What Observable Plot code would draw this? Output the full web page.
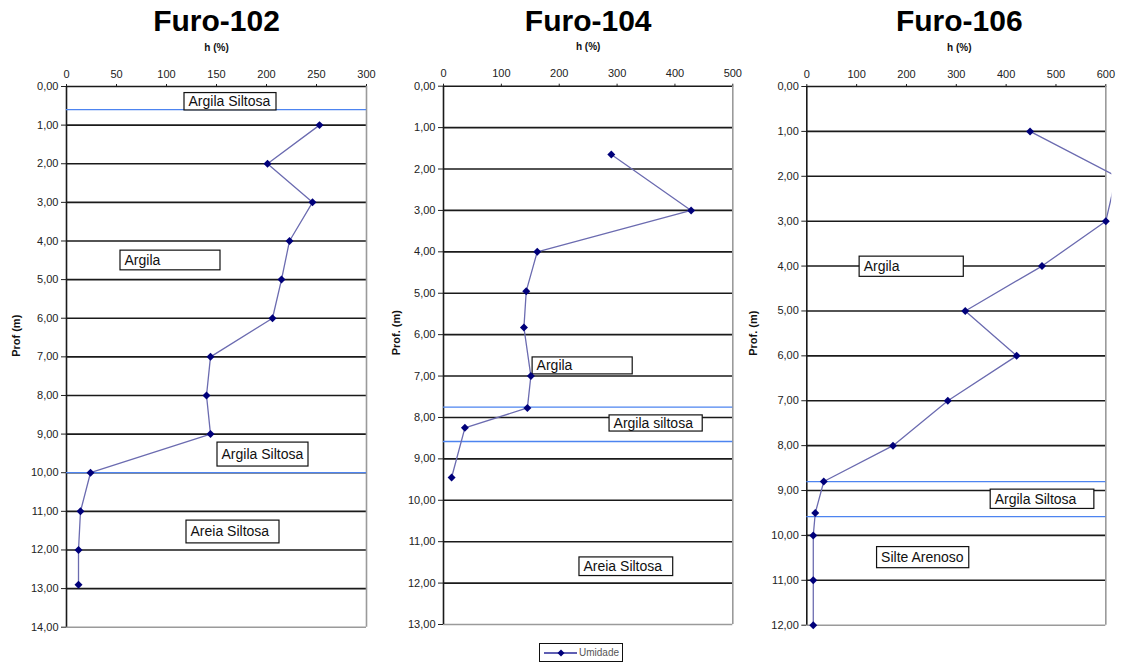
<!DOCTYPE html>
<html>
<head>
<meta charset="utf-8">
<script src="https://cdn.jsdelivr.net/npm/d3@7"></script>
<script src="https://cdn.jsdelivr.net/npm/@observablehq/plot@0.6"></script>
<style>
  html, body { margin: 0; padding: 0; background: #fff; }
  #page { position: relative; width: 1122px; height: 664px; overflow: hidden; font-family: "Liberation Sans", Arial, sans-serif; }
  .panel { position: absolute; top: 0; }
  #legend { position: absolute; left: 539px; top: 643px; width: 84px; height: 19px; border: 1.3px solid #111; box-sizing: border-box; display: flex; align-items: center; font-size: 10px; color: #555; }
</style>
</head>
<body>
<div id="page">
  <div id="p1" class="panel" style="left:0px"></div>
  <div id="p2" class="panel" style="left:375px"></div>
  <div id="p3" class="panel" style="left:745px"></div>
  <div id="legend">
    <svg width="36" height="12" style="margin-left:3px"><line x1="1" y1="6" x2="34" y2="6" stroke="#2a2a9a" stroke-width="1.3"/><path d="M18,2.5 L21.5,6 L18,9.5 L14.5,6 Z" fill="#00007a"/></svg>
    <span>Umidade</span>
  </div>
</div>
<script>
// ---- Furo-102 ----
const furo102Depth = [1, 2, 3, 4, 5, 6, 7, 8, 9, 10, 11, 12, 12.9];
const furo102Umidade = [253, 201, 246, 223, 215, 206, 144, 140, 144, 24, 14, 12, 12];
const furo102Contacts = [0.6, 10.0];
const furo102Notes = [
  {label: "Argila Siltosa", h1: 118, h2: 210, d1: 0.17, d2: 0.62},
  {label: "Argila", h1: 54, h2: 154, d1: 4.25, d2: 4.76},
  {label: "Argila Siltosa", h1: 151, h2: 242, d1: 9.22, d2: 9.84},
  {label: "Areia Siltosa", h1: 120, h2: 213, d1: 11.24, d2: 11.83}
];
const furo102XTicks = [0, 50, 100, 150, 200, 250, 300];

// ---- Furo-104 ----
const furo104Depth = [1.65, 3.0, 4.0, 4.95, 5.83, 7.0, 7.77, 8.25, 9.45];
const furo104Umidade = [290, 428, 162, 143, 139, 151, 145, 37, 14];
const furo104Contacts = [7.75, 8.58];
const furo104Notes = [
  {label: "Argila", h1: 154, h2: 327, d1: 6.55, d2: 6.96},
  {label: "Argila siltosa", h1: 287, h2: 448, d1: 7.95, d2: 8.34},
  {label: "Areia Siltosa", h1: 235, h2: 397, d1: 11.38, d2: 11.83}
];
const furo104XTicks = [0, 100, 200, 300, 400, 500];

// ---- Furo-106 ----
const furo106Depth = [1, 2, 3, 4, 5, 6, 7, 8, 8.8, 9.5, 10, 11, 12];
const furo106Umidade = [448, 621, 600, 472, 318, 421, 283, 173, 34, 17, 13, 13, 13];
const furo106Contacts = [8.8, 9.58];
const furo106Notes = [
  {label: "Argila", h1: 106, h2: 315, d1: 3.79, d2: 4.24},
  {label: "Argila Siltosa", h1: 369, h2: 577, d1: 8.98, d2: 9.41},
  {label: "Silte Arenoso", h1: 141, h2: 326, d1: 10.26, d2: 10.73}
];
const furo106XTicks = [0, 100, 200, 300, 400, 500, 600];

const FONT = "Liberation Sans, Arial, Helvetica, sans-serif";
const comma = d => d.toFixed(2).replace(".", ",");

function panel(o) {
  const data = o.depth.map((d, i) => ({d, h: o.h[i]}));
  // markers beyond the chart's value range are hidden, as in the source chart
  const visible = data.filter(p => p.h <= o.xDomainMax);
  const grid = d3.range(1, o.ymax);
  const noteMid = n => (n.d1 + n.d2) / 2;
  return Plot.plot({
    width: o.width, height: 664,
    marginLeft: o.ml, marginRight: o.mr, marginTop: o.mt, marginBottom: o.mb,
    style: {fontFamily: FONT, fontSize: "11px", color: "#222", background: "transparent", overflow: "visible"},
    x: {domain: [0, o.xDomainMax], axis: "top", ticks: o.xticks, tickSize: 3, tickPadding: 6, label: null},
    y: {domain: [0, o.ymax], reverse: true, ticks: d3.range(0, o.ymax + 1), tickFormat: comma, tickSize: 5, tickPadding: 3, label: null},
    marks: [
      Plot.ruleY(grid, {x1: 0, x2: o.xmax, stroke: "#1a1a1a", strokeWidth: 1.6}),
      Plot.ruleY([0], {x1: 0, x2: o.xmax, stroke: "#1a1a1a", strokeWidth: 1.6}),
      Plot.ruleY([o.ymax], {x1: 0, x2: o.xmax, stroke: "#9a9a9a", strokeWidth: 1.6}),
      Plot.ruleX([o.xmax], {y1: 0, y2: o.ymax, stroke: "#9a9a9a", strokeWidth: 1.6}),
      Plot.ruleX([0], {y1: 0, y2: o.ymax, stroke: "#1a1a1a", strokeWidth: 1.6}),
      Plot.ruleY(o.contacts, {x1: 0, x2: o.xmax, stroke: "#4d84f0", strokeWidth: 1.3}),
      Plot.rect(o.notes, {x1: "h1", x2: "h2", y1: "d1", y2: "d2", fill: "#fff", stroke: "#111", strokeWidth: 1.2}),
      Plot.text(o.notes, {x: "h1", y: noteMid, text: "label", textAnchor: "start", dx: 4, fontSize: 14, fill: "#111"}),
      Plot.line(data, {x: "h", y: "d", stroke: "#6b6bb0", strokeWidth: 1.3, clip: true}),
      Plot.dot(visible, {x: "h", y: "d", symbol: "diamond2", r: 3.6, fill: "#00007a", stroke: "none"}),
      Plot.text([o.title], {frameAnchor: "top", dy: -65, fontSize: 30, fontWeight: "bold", fill: "#000", lineAnchor: "middle", text: d => d}),
      Plot.text(["h (%)"], {frameAnchor: "top", dy: -39, fontSize: 10, fontWeight: "bold", fill: "#111", lineAnchor: "middle", text: d => d}),
      Plot.text([o.yLabel], {frameAnchor: "left", dx: o.ylabDx, rotate: -90, fontSize: 11, fontWeight: "bold", fill: "#111", text: d => d})
    ]
  });
}

document.getElementById("p1").appendChild(panel({
  title: "Furo-102", yLabel: "Prof (m)", depth: furo102Depth, h: furo102Umidade,
  contacts: furo102Contacts, notes: furo102Notes, xticks: furo102XTicks,
  xmax: 300, xDomainMax: 300, ymax: 14,
  width: 375, ml: 66, mr: 9, mt: 86, mb: 37.3, ylabDx: -50
}));
document.getElementById("p2").appendChild(panel({
  title: "Furo-104", yLabel: "Prof. (m)", depth: furo104Depth, h: furo104Umidade,
  contacts: furo104Contacts, notes: furo104Notes, xticks: furo104XTicks,
  xmax: 500, xDomainMax: 500, ymax: 13,
  width: 370, ml: 68, mr: 12.7, mt: 85.7, mb: 40, ylabDx: -47
}));
document.getElementById("p3").appendChild(panel({
  title: "Furo-106", yLabel: "Prof. (m)", depth: furo106Depth, h: furo106Umidade,
  contacts: furo106Contacts, notes: furo106Notes, xticks: furo106XTicks,
  xmax: 600, xDomainMax: 612, ymax: 12,
  width: 377, ml: 61.3, mr: 10.7, mt: 86, mb: 39.3, ylabDx: -53
}));
</script>
</body>
</html>
